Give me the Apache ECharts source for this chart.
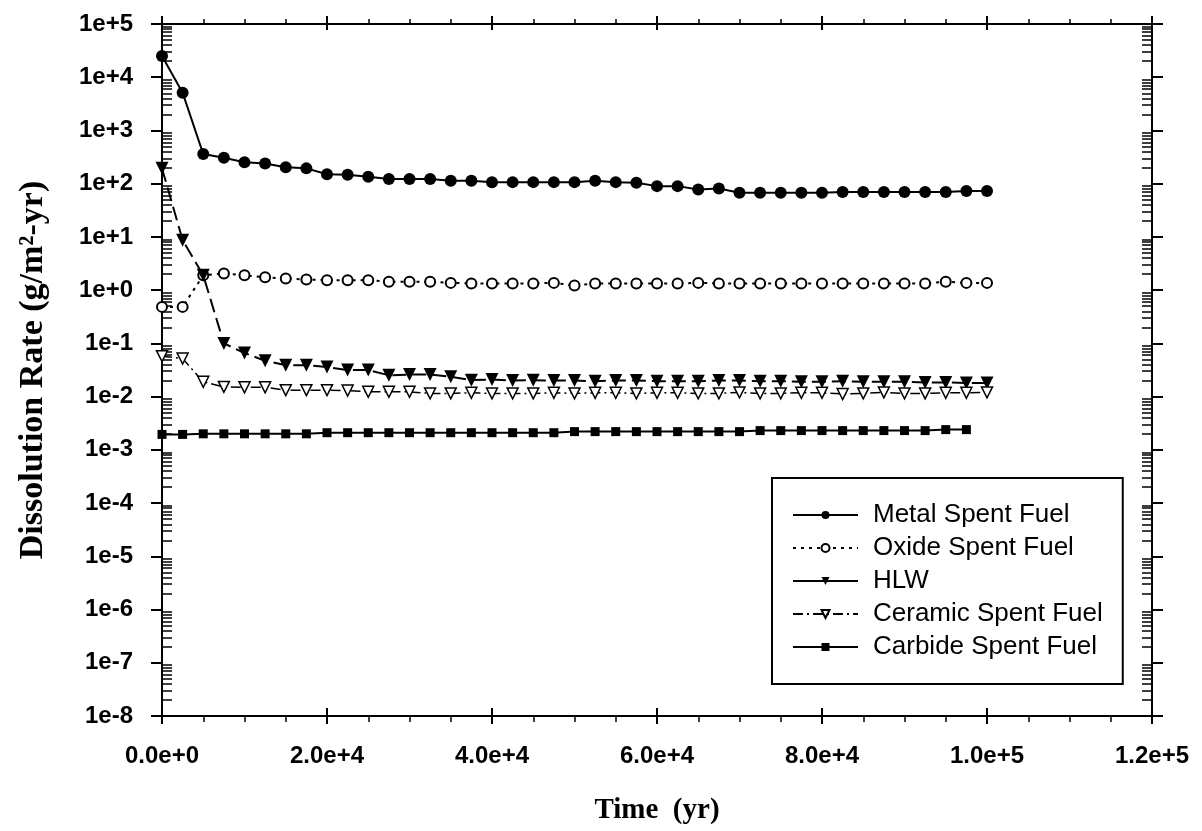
<!DOCTYPE html>
<html>
<head>
<meta charset="utf-8">
<script src="https://cdn.jsdelivr.net/npm/echarts@6/dist/echarts.min.js"></script>
<style>
html,body{margin:0;padding:0;background:#fff;}
#chart{width:1202px;height:831px;}
</style>
</head>
<body>
<div id="chart"></div>
<script>
// ---- data ----
const years = [0, 2500, 5000, 7500, 10000, 12500, 15000, 17500, 20000, 22500,
  25000, 27500, 30000, 32500, 35000, 37500, 40000, 42500, 45000, 47500,
  50000, 52500, 55000, 57500, 60000, 62500, 65000, 67500, 70000, 72500,
  75000, 77500, 80000, 82500, 85000, 87500, 90000, 92500, 95000, 97500, 100000];

const metalSpentFuel = [25000, 5100, 360, 307, 252, 240, 203, 194, 151, 147,
  135, 123, 123, 123, 113, 113, 106, 107, 107, 107,
  107, 113, 107, 104, 90, 90, 78, 81, 67.5, 67.5,
  67.5, 67.5, 67.5, 70, 70, 70, 70, 70, 70, 73, 73];

const oxideSpentFuel = [0.485, 0.485, 1.9, 2.06, 1.91, 1.74, 1.66, 1.58, 1.54, 1.54,
  1.54, 1.44, 1.44, 1.44, 1.37, 1.34, 1.34, 1.34, 1.34, 1.37,
  1.22, 1.34, 1.34, 1.34, 1.34, 1.34, 1.37, 1.34, 1.34, 1.34,
  1.34, 1.34, 1.34, 1.34, 1.34, 1.34, 1.34, 1.34, 1.44, 1.37, 1.37];

const hlw = [194, 8.7, 1.9, 0.1, 0.066, 0.047, 0.039, 0.039, 0.036, 0.0315,
  0.0315, 0.0252, 0.026, 0.026, 0.0235, 0.0204, 0.021, 0.020, 0.0204, 0.020,
  0.020, 0.0195, 0.020, 0.020, 0.0195, 0.0195, 0.0195, 0.020, 0.020, 0.0195,
  0.0195, 0.019, 0.019, 0.0195, 0.019, 0.019, 0.019, 0.0185, 0.0185, 0.018, 0.018];

const ceramicSpentFuel = [0.0575, 0.052, 0.019, 0.0152, 0.015, 0.015, 0.0132, 0.0132, 0.0132, 0.013,
  0.0123, 0.0123, 0.0123, 0.0115, 0.0115, 0.0118, 0.0115, 0.0115, 0.0115, 0.0118,
  0.0115, 0.0118, 0.0118, 0.0115, 0.0118, 0.0118, 0.0115, 0.0115, 0.012, 0.0115,
  0.0115, 0.0118, 0.0118, 0.0112, 0.0115, 0.012, 0.0115, 0.0115, 0.0118, 0.0118, 0.012];

const carbideSpentFuel = [0.00195, 0.00195, 0.002, 0.002, 0.002, 0.002, 0.002, 0.002, 0.0021, 0.0021,
  0.0021, 0.0021, 0.0021, 0.0021, 0.0021, 0.0021, 0.0021, 0.0021, 0.0021, 0.0021,
  0.0022, 0.0022, 0.0022, 0.0022, 0.0022, 0.0022, 0.0022, 0.0022, 0.0022, 0.0023,
  0.0023, 0.0023, 0.0023, 0.0023, 0.0023, 0.0023, 0.0023, 0.0023, 0.0024, 0.0024];

const yDecadeExponents = [-8, -7, -6, -5, -4, -3, -2, -1, 0, 1, 2, 3, 4, 5];
const xTickValues = [0, 20000, 40000, 60000, 80000, 100000, 120000];

// ---- helpers ----
const yDecades = yDecadeExponents.map(e => Math.pow(10, e));
const yMinor = [];
for (let i = 0; i < yDecadeExponents.length - 1; i++) {
  for (let m = 2; m <= 9; m++) yMinor.push(m * Math.pow(10, yDecadeExponents[i]));
}
const pairs = arr => arr.map((v, i) => [years[i], v]);
const fmtY = v => { const e = Math.round(Math.log10(v)); return '1e' + (e >= 0 ? '+' : '') + e; };
const fmtX = v => {
  if (v === 0) return '0.0e+0';
  const e = Math.floor(Math.log10(v) + 1e-9);
  return (v / Math.pow(10, e)).toFixed(1) + 'e+' + e;
};
const triDown = 'path://M0,0L10,0L5,9Z';
const SANS = 'Liberation Sans, Arial, sans-serif';
const SERIF = 'Liberation Serif, Times New Roman, serif';
const axLine = { show: true, onZero: false, lineStyle: { color: '#000', width: 2 } };
const noLine = { show: false, onZero: false };

const baseX = { type: 'value', min: 0, max: 120000, interval: 20000, gridIndex: 0, splitLine: { show: false } };
const baseY = { type: 'log', logBase: 10, min: 1e-8, max: 1e5, splitLine: { show: false }, minorSplitLine: { show: false } };

const chart = echarts.init(document.getElementById('chart'));
chart.setOption({
  animation: false,
  backgroundColor: '#fff',
  grid: { left: 162, right: 50, top: 24, bottom: 115, containLabel: false },
  legend: {
    orient: 'vertical',
    left: 772, top: 478,
    padding: [24, 20, 24, 20],
    itemGap: 7,
    itemWidth: 65, itemHeight: 10,
    borderColor: '#000', borderWidth: 2,
    backgroundColor: '#fff',
    textStyle: { fontFamily: SANS, fontSize: 26, color: '#000', lineHeight: 26, padding: [0, 0, 0, 10] },
    data: [
      { name: 'Metal Spent Fuel' },
      { name: 'Oxide Spent Fuel' },
      { name: 'HLW', lineStyle: { type: 'solid' } },
      { name: 'Ceramic Spent Fuel' },
      { name: 'Carbide Spent Fuel' }
    ]
  },
  xAxis: [
    Object.assign({}, baseX, {
      position: 'bottom',
      axisLine: axLine,
      axisTick: { show: true, inside: false, length: 8, lineStyle: { color: '#000', width: 2 } },
      minorTick: { show: true, splitNumber: 4, length: 6, lineStyle: { color: '#000', width: 1.5 } },
      axisLabel: { show: true, margin: 28, fontFamily: SANS, fontWeight: 'bold', fontSize: 24, color: '#000', formatter: fmtX,
        customValues: xTickValues },
      name: 'Time  (yr)', nameLocation: 'middle', nameGap: 80,
      nameTextStyle: { fontFamily: SERIF, fontWeight: 'bold', fontSize: 29, color: '#000' }
    }),
    Object.assign({}, baseX, {
      position: 'bottom',
      axisLine: noLine,
      axisTick: { show: true, inside: true, length: 8, lineStyle: { color: '#000', width: 2 } },
      axisLabel: { show: false }
    }),
    Object.assign({}, baseX, {
      position: 'top',
      axisLine: axLine,
      axisTick: { show: true, inside: false, length: 8, lineStyle: { color: '#000', width: 2 } },
      minorTick: { show: true, splitNumber: 4, length: 5, lineStyle: { color: '#000', width: 1.5 } },
      axisLabel: { show: false }
    }),
    Object.assign({}, baseX, {
      position: 'top',
      axisLine: noLine,
      axisTick: { show: true, inside: true, length: 6, lineStyle: { color: '#000', width: 2 } },
      axisLabel: { show: false }
    })
  ],
  yAxis: [
    Object.assign({}, baseY, {
      position: 'left',
      axisLine: axLine,
      axisTick: { show: true, inside: false, length: 11, customValues: yDecades, lineStyle: { color: '#000', width: 2 } },
      axisLabel: { show: true, margin: 29, fontFamily: SANS, fontWeight: 'bold', fontSize: 24, color: '#000', formatter: fmtY,
        customValues: yDecades },
      name: 'Dissolution Rate (g/m²-yr)', nameLocation: 'middle', nameGap: 112, nameRotate: 90,
      nameTextStyle: { fontFamily: SERIF, fontWeight: 'bold', fontSize: 34, color: '#000' }
    }),
    Object.assign({}, baseY, {
      position: 'left',
      axisLine: noLine,
      axisTick: { show: true, inside: true, length: 10, customValues: yMinor, lineStyle: { color: '#000', width: 1.5 } },
      axisLabel: { show: false }
    }),
    Object.assign({}, baseY, {
      position: 'right',
      axisLine: axLine,
      axisTick: { show: true, inside: false, length: 11, customValues: yDecades, lineStyle: { color: '#000', width: 2 } },
      axisLabel: { show: false }
    }),
    Object.assign({}, baseY, {
      position: 'right',
      axisLine: noLine,
      axisTick: { show: true, inside: true, length: 10, customValues: yMinor, lineStyle: { color: '#000', width: 1.5 } },
      axisLabel: { show: false }
    })
  ],
  series: [
    {
      name: 'Metal Spent Fuel', type: 'line', xAxisIndex: 0, yAxisIndex: 0,
      data: pairs(metalSpentFuel),
      symbol: 'circle', symbolSize: 12,
      itemStyle: { color: '#000' },
      lineStyle: { color: '#000', width: 2, type: 'solid' }
    },
    {
      name: 'Oxide Spent Fuel', type: 'line', xAxisIndex: 0, yAxisIndex: 0,
      data: pairs(oxideSpentFuel),
      symbol: 'circle', symbolSize: 10,
      itemStyle: { color: '#fff', borderColor: '#000', borderWidth: 2 },
      lineStyle: { color: '#000', width: 2, type: [3, 5] }
    },
    {
      name: 'HLW', type: 'line', xAxisIndex: 0, yAxisIndex: 0,
      data: pairs(hlw),
      symbol: triDown, symbolSize: 13,
      itemStyle: { color: '#000' },
      lineStyle: { color: '#000', width: 2, type: [14, 6] }
    },
    {
      name: 'Ceramic Spent Fuel', type: 'line', xAxisIndex: 0, yAxisIndex: 0,
      data: pairs(ceramicSpentFuel),
      symbol: triDown, symbolSize: 11,
      itemStyle: { color: '#fff', borderColor: '#000', borderWidth: 1.5 },
      lineStyle: { color: '#000', width: 1.5, type: [10, 4, 2, 4] }
    },
    {
      name: 'Carbide Spent Fuel', type: 'line', xAxisIndex: 0, yAxisIndex: 0,
      data: pairs(carbideSpentFuel),
      symbol: 'rect', symbolSize: 9,
      itemStyle: { color: '#000' },
      lineStyle: { color: '#000', width: 2, type: 'solid' }
    }
  ]
});
</script>
</body>
</html>
